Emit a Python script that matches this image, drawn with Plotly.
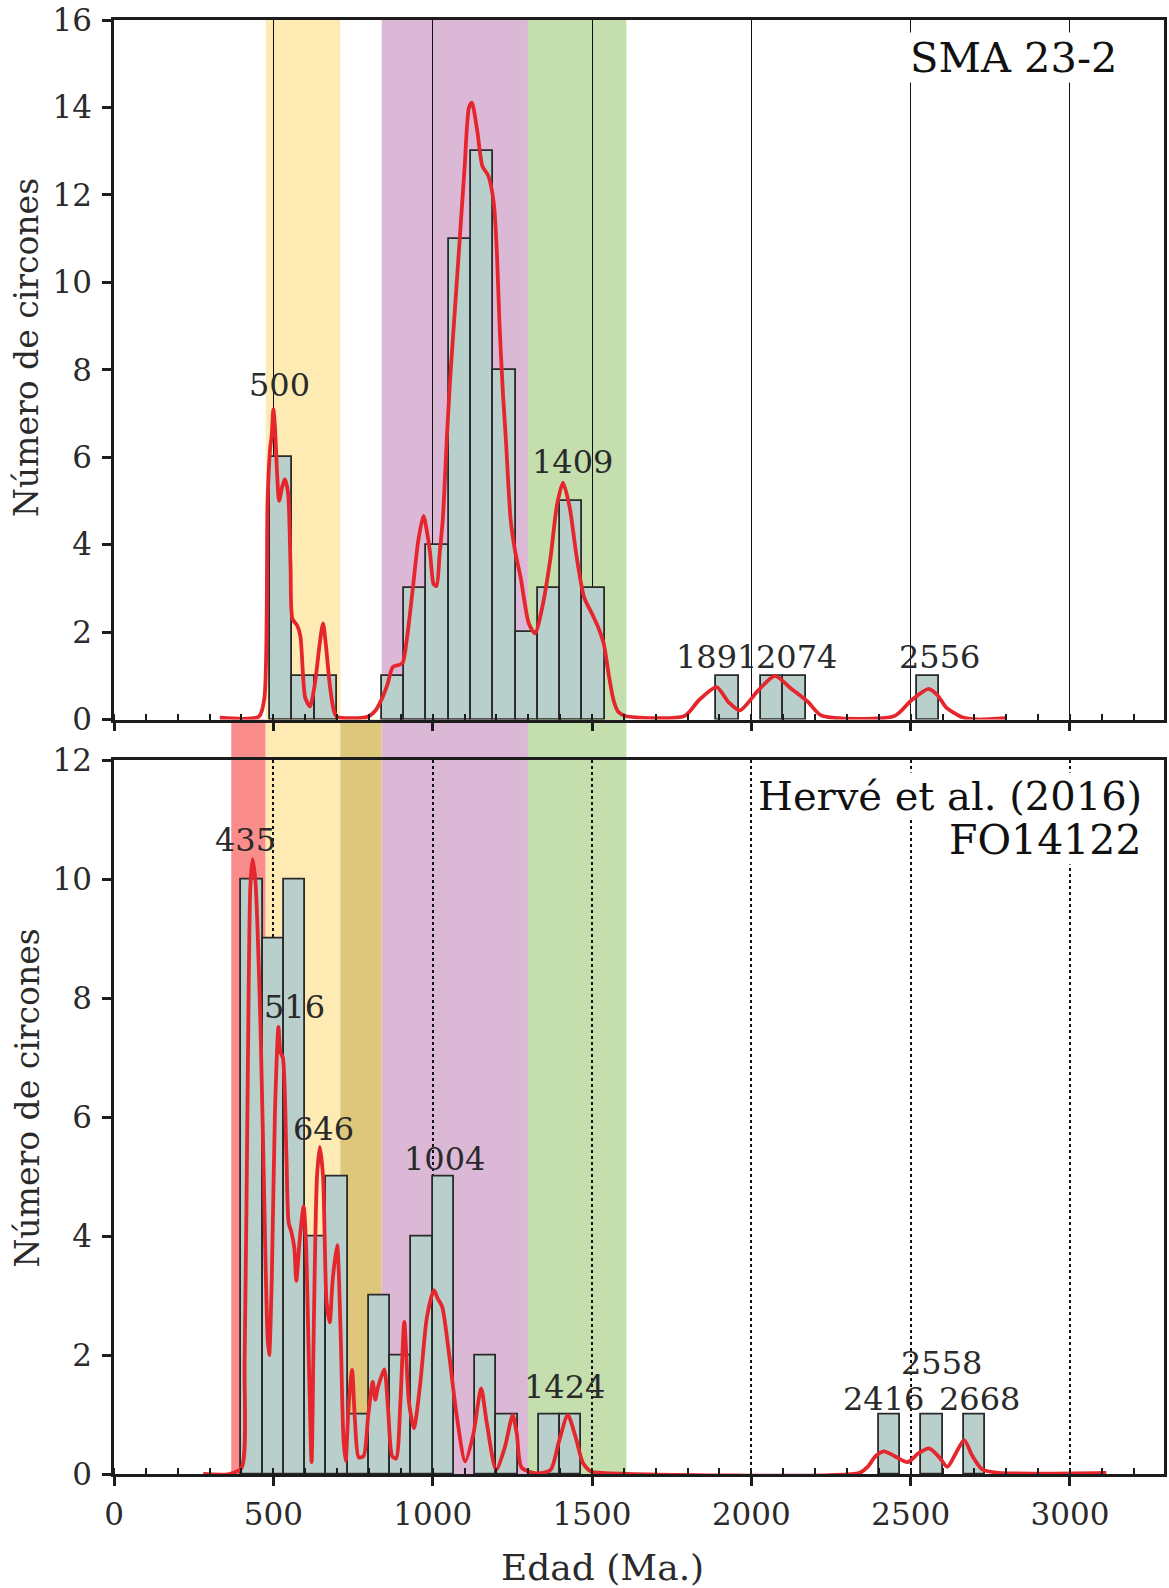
import plotly.graph_objects as go

# ---------------- data ----------------
# Histogram bins (left edge of each bin, Ma) and zircon counts
top_bin_width = 70
top_bin_start = [490, 560, 630, 840, 910, 980, 1050, 1120, 1190, 1260, 1330,
                 1400, 1470, 1890, 2030, 2100, 2520]
top_counts = [6, 1, 1, 1, 3, 4, 11, 13, 8, 2, 3, 5, 3, 1, 1, 1, 1]

bot_bin_width = 200 / 3
bot_bin_start = [400, 466.67, 533.33, 600, 666.67, 733.33, 800, 866.67, 933.33,
                 1000, 1133.33, 1200, 1333.33, 1400, 2400, 2533.33, 2666.67]
bot_counts = [10, 9, 10, 4, 5, 1, 3, 2, 4, 5, 2, 1, 1, 1, 1, 1, 1]

# Probability density curves (age in Ma, scaled to counts)
top_kde_age = [332, 455, 472, 482, 490, 495, 500, 505, 512, 518, 527, 536, 546,
               554, 560, 575, 585, 600, 615, 630, 645, 656, 665, 677, 690, 700,
               795, 820, 839, 858, 875, 895, 906, 920, 937, 955, 971, 982, 992,
               1003, 1012, 1022, 1032, 1045, 1055, 1070, 1085, 1100, 1114, 1123,
               1140, 1156, 1175, 1192, 1202, 1210, 1221, 1229, 1245, 1260, 1276,
               1302, 1321, 1344, 1370, 1390, 1409, 1430, 1452, 1475, 1500, 1520,
               1537, 1553, 1568, 1583, 1605, 1790, 1834, 1891, 1928, 1964, 2021,
               2074, 2126, 2178, 2220, 2449, 2501, 2556, 2585, 2611, 2663, 2710,
               2797]
top_kde_val = [0.04, 0.07, 0.5, 5.0, 6.2, 6.5, 7.1, 6.7, 5.6, 5.0, 5.3, 5.5, 5.2,
               3.5, 2.3, 2.15, 1.9, 0.5, 0.3, 0.8, 1.7, 2.2, 1.7, 0.8, 0.2, 0.06,
               0.06, 0.2, 0.45, 0.8, 1.2, 1.25, 1.3, 1.9, 2.95, 4.1, 4.66, 4.3, 3.8,
               3.1, 3.05, 3.8, 4.6, 6.5, 7.8, 9.4, 11.0, 12.6, 14.0, 14.11,
               13.46, 12.66, 12.43, 11.8, 10.6, 9.0, 7.4, 6.5, 4.55, 3.8, 3.25,
               2.19, 1.97, 2.57, 3.71, 4.9, 5.42, 4.85, 3.71, 2.8, 2.42, 2.1,
               1.73, 1.0, 0.43, 0.17, 0.08, 0.08, 0.43, 0.74, 0.4, 0.21, 0.66,
               1.0, 0.7, 0.4, 0.09, 0.08, 0.43, 0.7, 0.55, 0.28, 0.05, 0.0,
               0.03]

bot_kde_age = [280, 362, 400, 410, 420, 428, 435, 444, 460, 474, 482, 487, 495,
               505, 516, 522, 530, 541, 548, 557, 566, 572, 583, 595, 602, 612,
               620, 627, 637, 646, 656, 667, 677, 686, 700, 711, 720, 727, 736,
               747, 756, 768, 783, 798, 812, 820, 828, 848, 860, 873, 885, 899,
               911, 925, 941, 961, 982, 1004, 1016, 1030, 1050, 1076, 1102, 1128,
               1152, 1170, 1199, 1227, 1251, 1264, 1279, 1326, 1370, 1395, 1424,
               1448, 1472, 1497, 1530, 2340, 2365, 2390, 2416, 2450, 2490, 2525,
               2558, 2590, 2615, 2641, 2668, 2693, 2724, 2775, 3114]
bot_kde_val = [0.0, 0.0, 0.1, 1.9, 6.8, 9.9, 10.34, 9.95, 7.48, 3.95, 2.3, 2.0,
               3.25, 6.07, 7.52, 7.1, 7.0, 5.36, 4.23, 4.06, 3.8, 3.25, 3.95, 4.5,
               3.95, 1.8, 0.2, 2.5, 5.0, 5.5, 5.0, 2.9, 2.55, 3.25, 3.85, 2.4,
               0.6, 0.22, 1.13, 1.75, 0.92, 0.28, 0.3, 1.0, 1.55, 1.25, 1.45,
               1.76, 1.1, 0.3, 0.26, 1.24, 2.56, 1.24, 0.77, 1.52, 2.64, 3.09,
               2.95, 2.81, 2.08, 0.96, 0.21, 0.68, 1.44, 0.85, 0.07, 0.46, 0.99,
               0.68, 0.11, 0.01, 0.07, 0.52, 0.99, 0.63, 0.18, 0.04, 0.02, 0.02,
               0.12, 0.3, 0.38, 0.3, 0.2, 0.35, 0.43, 0.28, 0.12, 0.34, 0.57,
               0.31, 0.08, 0.02, 0.02]

# Peak labels: text, x (Ma), y (count)
top_peak_text = ["500", "1409", "1891", "2074", "2556"]
top_peak_x = [519, 1440, 1892, 2143, 2590]
top_peak_y = [7.66, 5.9, 1.42, 1.42, 1.44]

bot_peak_text = ["435", "516", "646", "1004", "1424", "2558", "2416", "2668"]
bot_peak_x = [413, 566, 657, 1036, 1414, 2596, 2415, 2717]
bot_peak_y = [10.67, 7.85, 5.8, 5.29, 1.47, 1.87, 1.26, 1.26]

# Age intervals shaded in the background (Ma)
band_names = ["red", "yellow", "olive", "purple", "green"]
band_start = [368, 476, 710, 840, 1299]
band_end = [476, 710, 840, 1299, 1608]

# ---------------- styling ----------------
FONT = "DejaVu Serif"
TXT = "#2a2a2a"
BAR_FILL = "#B8CFCC"
BAR_LINE = "#2a2a2a"
KDE_RED = "#E5262D"
band_color = {"red": "#FA8C8C", "yellow": "#FDEBB3", "olive": "#DEC67B",
              "purple": "#DCB8D7", "green": "#C4DEAE"}
# bands that belong to the lower sample only
lower_only = {"red", "olive"}

W, H = 1169, 1588
M_L, M_R, M_T, M_B = 114, 2, 19, 114
plot_h = H - M_T - M_B
top_dom = [(1474 - 719) / plot_h, 1.0]
bot_dom = [0.0, (1474 - 760) / plot_h]
X_RANGE = [0, 3295]

fig = go.Figure()

# histograms
fig.add_trace(go.Bar(
    x=[s + top_bin_width / 2 for s in top_bin_start], y=top_counts,
    width=top_bin_width, marker=dict(color=BAR_FILL, line=dict(color=BAR_LINE, width=1.8)),
    xaxis="x", yaxis="y", showlegend=False))
fig.add_trace(go.Bar(
    x=[s + bot_bin_width / 2 for s in bot_bin_start], y=bot_counts,
    width=bot_bin_width, marker=dict(color=BAR_FILL, line=dict(color=BAR_LINE, width=1.8)),
    xaxis="x2", yaxis="y2", showlegend=False))

# density curves
fig.add_trace(go.Scatter(
    x=top_kde_age, y=top_kde_val, mode="lines",
    line=dict(color=KDE_RED, width=3.8, shape="spline", smoothing=0.7),
    xaxis="x", yaxis="y", showlegend=False, cliponaxis=False))
fig.add_trace(go.Scatter(
    x=bot_kde_age, y=bot_kde_val, mode="lines",
    line=dict(color=KDE_RED, width=3.8, shape="spline", smoothing=0.7),
    xaxis="x2", yaxis="y2", showlegend=False, cliponaxis=False))

# shaded age intervals
shapes = []
for name, a, b in zip(band_names, band_start, band_end):
    shapes.append(dict(type="rect", xref="x", yref="paper", x0=a, x1=b,
                       y0=0, y1=top_dom[0] if name in lower_only else 1,
                       fillcolor=band_color[name], line=dict(width=0), layer="below"))

# annotations
ann = []
for t, x, y in zip(top_peak_text, top_peak_x, top_peak_y):
    ann.append(dict(text=t, x=x, y=y, xref="x", yref="y", showarrow=False,
                    xanchor="center", yanchor="middle",
                    font=dict(family=FONT, size=32, color=TXT)))
for t, x, y in zip(bot_peak_text, bot_peak_x, bot_peak_y):
    ann.append(dict(text=t, x=x, y=y, xref="x2", yref="y2", showarrow=False,
                    xanchor="center", yanchor="middle",
                    font=dict(family=FONT, size=32, color=TXT)))

def px_x(p):
    return (p - M_L) / (W - M_L - M_R)

def px_y(p):
    return (H - M_B - p) / plot_h

ann.append(dict(text="SMA 23-2", x=px_x(1121), y=px_y(57), xref="paper", yref="paper",
                xanchor="right", yanchor="middle", showarrow=False, bgcolor="white",
                borderpad=0, font=dict(family=FONT, size=41.5, color="#111")))
ann.append(dict(text="Hervé et al. (2016)", x=px_x(1146), y=px_y(796), xref="paper",
                yref="paper", xanchor="right", yanchor="middle", showarrow=False,
                bgcolor="white", borderpad=0, font=dict(family=FONT, size=40, color="#111")))
ann.append(dict(text="FO14122", x=px_x(1146), y=px_y(840), xref="paper",
                yref="paper", xanchor="right", yanchor="middle", showarrow=False,
                bgcolor="white", borderpad=0, font=dict(family=FONT, size=41, color="#111")))
for yc in (347, 1098):
    ann.append(dict(text="Número de circones", x=px_x(27), y=px_y(yc), xref="paper",
                    yref="paper", xanchor="center", yanchor="middle", textangle=-90,
                    showarrow=False, font=dict(family=FONT, size=33, color=TXT)))
ann.append(dict(text="Edad (Ma.)", x=px_x(604), y=px_y(1568), xref="paper", yref="paper",
                xanchor="center", yanchor="middle", showarrow=False,
                font=dict(family=FONT, size=36, color=TXT)))

AX_LINE = "#1c1c1c"
common_x = dict(range=X_RANGE, tick0=0, dtick=500, showline=True, linecolor=AX_LINE,
                linewidth=2.5, mirror=True, ticks="outside", ticklen=9, tickwidth=2.5,
                tickcolor=AX_LINE, zeroline=False, showgrid=True, gridcolor="#111",
                minor=dict(dtick=100, ticks="inside", ticklen=6, tickwidth=2,
                           tickcolor=AX_LINE, showgrid=False),
                tickfont=dict(family=FONT, size=31, color=TXT))
common_y = dict(showline=True, linecolor=AX_LINE, linewidth=2.5, mirror=True,
                ticks="outside", ticklen=9, tickwidth=2.5, tickcolor=AX_LINE,
                zeroline=False, showgrid=False, dtick=2, tick0=0,
                tickfont=dict(family=FONT, size=31, color=TXT), ticklabelstandoff=4)
inner_y = dict(showline=False, ticks="inside", ticklen=9, tickwidth=2.5,
               tickcolor=AX_LINE, showticklabels=False, showgrid=False,
               zeroline=False, dtick=2, tick0=0, side="left",
               minor=dict(dtick=1, ticks="inside", ticklen=6, tickwidth=2,
                          tickcolor=AX_LINE, showgrid=False))

fig.update_layout(
    width=W, height=H,
    margin=dict(l=M_L, r=M_R, t=M_T, b=M_B, pad=0),
    paper_bgcolor="white", plot_bgcolor="rgba(0,0,0,0)",
    bargap=0, showlegend=False,
    xaxis=dict(common_x, domain=[0, 1], anchor="y", showticklabels=False,
               gridwidth=1.2),
    yaxis=dict(common_y, domain=top_dom, anchor="x", range=[0, 16]),
    xaxis2=dict(common_x, domain=[0, 1], anchor="y2", showticklabels=True,
                gridwidth=2, griddash="dot", ticklabelstandoff=2),
    yaxis2=dict(common_y, domain=bot_dom, anchor="x2", range=[0, 12]),
    yaxis3=dict(inner_y, overlaying="y", anchor="x", range=[0, 16]),
    yaxis4=dict(inner_y, overlaying="y2", anchor="x2", range=[0, 12]),
    shapes=shapes, annotations=ann,
)

fig.write_html("out.html")
